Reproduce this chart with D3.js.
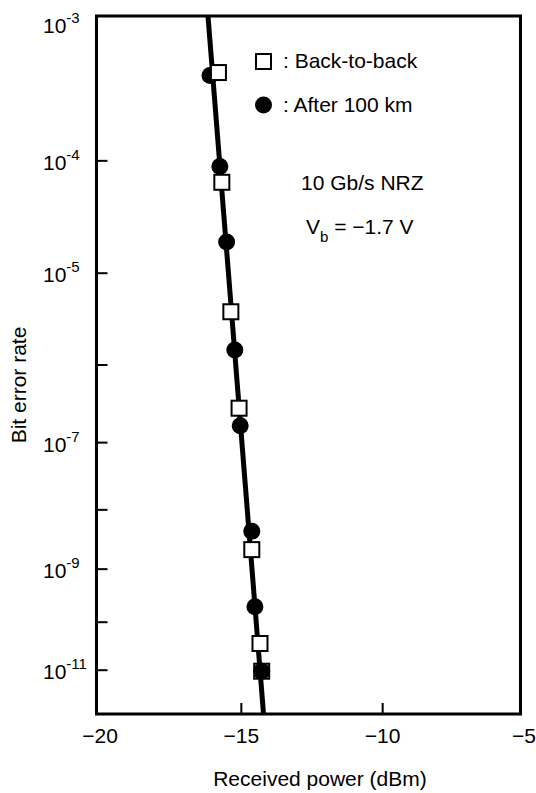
<!DOCTYPE html>
<html>
<head>
<meta charset="utf-8">
<script src="https://cdn.jsdelivr.net/npm/d3@7"></script>
<style>
  html, body { margin: 0; padding: 0; background: #fff; }
  svg { display: block; }
  text { font-family: "Liberation Sans", Arial, Helvetica, sans-serif; fill: #000; }
</style>
</head>
<body>
<svg id="chart" width="536" height="793"></svg>
<script>
// ---------- data ----------
const btbPower = [-15.81, -15.69, -15.37, -15.08, -14.63, -14.34, -14.28];
const btbBer   = [4.4e-4, 6.7e-5, 4.0e-6, 2.9e-7, 2.2e-9, 3.7e-11, 9.5e-12];
const km100Power = [-16.11, -15.76, -15.52, -15.23, -15.04, -14.63, -14.52, -14.28];
const km100Ber   = [4.2e-4, 9.0e-5, 2.0e-5, 1.5e-6, 1.7e-7, 4.5e-9, 2.0e-10, 9.5e-12];
const fitPower = [-16.18, -14.215];
const fitBer   = [1e-3, 1e-12];
const xTicks = [-20, -15, -10, -5];
const yMajorExp = [3, 4, 5, 7, 9, 11];
const yMinorExp = [6, 8, 10];
const legendLabels = [": Back-to-back", ": After 100 km"];

// ---------- scales ----------
const svg = d3.select("#chart");
const x = d3.scaleLinear().domain([-20, -5]).range([100, 524]);
// BER axis: log of -log10(BER)
const yQ = d3.scaleLog().domain([3, 12]).range([16, 714]);
const y = ber => yQ(-Math.log10(ber));

const frame = { left: 96.5, right: 520.5, top: 16, bottom: 714 };
const FS = 21;

// ---------- ticks ----------
const tickG = svg.append("g").attr("stroke", "#000").attr("stroke-width", 2);
yMajorExp.concat(yMinorExp).filter(e => e > 3 && e < 12).forEach(e => {
  tickG.append("line")
    .attr("x1", frame.left).attr("x2", frame.left + 11)
    .attr("y1", yQ(e)).attr("y2", yQ(e));
});
xTicks.filter(t => t > -20 && t < -5).forEach(t => {
  tickG.append("line")
    .attr("x1", x(t)).attr("x2", x(t))
    .attr("y1", frame.bottom).attr("y2", frame.bottom - 11);
});

// ---------- frame ----------
svg.append("rect")
  .attr("x", frame.left).attr("y", frame.top)
  .attr("width", frame.right - frame.left).attr("height", frame.bottom - frame.top)
  .attr("fill", "none").attr("stroke", "#000").attr("stroke-width", 3);

// ---------- y tick labels ----------
yMajorExp.forEach(e => {
  const t = svg.append("text")
    .attr("x", 43).attr("y", yQ(e) + (e === 3 ? 17 : 9))
    .attr("font-size", FS);
  t.append("tspan").text("10");
  t.append("tspan").attr("dy", -10).attr("font-size", 15).text("-" + e);
});

// ---------- x tick labels ----------
svg.append("g").selectAll("text").data(xTicks).join("text")
  .attr("x", d => x(d)).attr("y", 743)
  .attr("text-anchor", "middle").attr("font-size", FS)
  .text(d => "\u2212" + Math.abs(d));

// ---------- axis titles ----------
svg.append("text")
  .attr("x", 320).attr("y", 786)
  .attr("text-anchor", "middle").attr("font-size", FS)
  .text("Received power (dBm)");
svg.append("text")
  .attr("transform", "translate(26,385) rotate(-90)")
  .attr("text-anchor", "middle").attr("font-size", FS)
  .text("Bit error rate");

// ---------- fit line ----------
svg.append("path")
  .datum(fitPower.map((p, i) => [p, fitBer[i]]))
  .attr("d", d3.line().x(d => x(d[0])).y(d => y(d[1])))
  .attr("fill", "none").attr("stroke", "#000").attr("stroke-width", 5);

// ---------- markers ----------
svg.append("g").selectAll("circle").data(km100Power.map((p, i) => [p, km100Ber[i]])).join("circle")
  .attr("cx", d => x(d[0])).attr("cy", d => y(d[1])).attr("r", 8.5).attr("fill", "#000");
svg.append("g").selectAll("rect").data(btbPower.map((p, i) => [p, btbBer[i]])).join("rect")
  .attr("x", d => x(d[0]) - 7.5).attr("y", d => y(d[1]) - 7.5)
  .attr("width", 15).attr("height", 15)
  .attr("fill", "#fff").attr("fill-opacity", d => d[1] < 2e-11 ? 0 : 1)
  .attr("stroke", "#000").attr("stroke-width", 2);

// ---------- legend ----------
svg.append("rect").attr("x", 263.5 - 7.5).attr("y", 61.5 - 7.5)
  .attr("width", 15).attr("height", 15).attr("fill", "#fff")
  .attr("stroke", "#000").attr("stroke-width", 2);
svg.append("circle").attr("cx", 263.5).attr("cy", 105).attr("r", 8.5).attr("fill", "#000");
svg.append("text").attr("x", 283).attr("y", 68).attr("font-size", FS).text(legendLabels[0]);
svg.append("text").attr("x", 283).attr("y", 112).attr("font-size", FS).text(legendLabels[1]);

// ---------- annotations ----------
svg.append("text").attr("x", 301).attr("y", 190).attr("font-size", FS).text("10 Gb/s NRZ");
const vb = svg.append("text").attr("x", 306).attr("y", 234).attr("font-size", FS);
vb.append("tspan").text("V");
vb.append("tspan").attr("dy", 8).attr("font-size", 15).text("b");
vb.append("tspan").attr("dy", -8).text(" = \u22121.7 V");
</script>
</body>
</html>
